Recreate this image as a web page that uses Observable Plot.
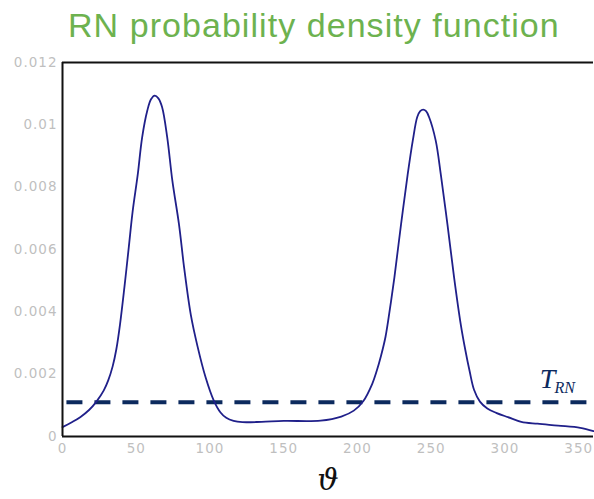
<!DOCTYPE html>
<html>
<head>
<meta charset="utf-8">
<script src="https://cdn.jsdelivr.net/npm/d3@7"></script>
<script src="https://cdn.jsdelivr.net/npm/@observablehq/plot@0.6"></script>
<style>
  html, body { margin: 0; padding: 0; background: #fff; }
  #title { height: 50px; line-height: 50px; font-family: "Liberation Sans", Arial, sans-serif; font-size: 34px; letter-spacing: 1.05px; color: #6db24f; padding-left: 68px; white-space: nowrap; }
  #chart svg { display: block; overflow: visible; }
  #chart svg g[aria-label="x-axis tick label"] text,
  #chart svg g[aria-label="y-axis tick label"] text { letter-spacing: 1px; }
</style>
</head>
<body>
<div id="title">RN probability density function</div>
<div id="chart"></div>
<script>
// angle (deg) and density values
const theta = [0, 6, 12, 18, 23, 28, 31, 34, 36.5, 39, 42, 45, 47.5, 51, 54, 57.5, 60, 62.5, 65, 67.5, 71, 74.5, 79, 82.5, 87, 91.5, 97, 102.5, 107, 111, 116, 122, 135, 150, 175, 189, 197.5, 204, 210, 213, 216, 219, 222, 225, 229.5, 234, 237.5, 240.5, 242.5, 244.5, 246.5, 248.5, 253, 256.5, 261, 265.5, 270, 273, 276, 279, 283, 288, 294, 302, 311, 322, 336, 351, 360];
const density = [0.00030, 0.00045, 0.00062, 0.00085, 0.00112, 0.00148, 0.00180, 0.00225, 0.0028, 0.0036, 0.0048, 0.0061, 0.0072, 0.0084, 0.0096, 0.01046, 0.01082, 0.01094, 0.01085, 0.01057, 0.0096, 0.0082, 0.0068, 0.0054, 0.0039, 0.0029, 0.0019, 0.00116, 0.00078, 0.00060, 0.00050, 0.00046, 0.00047, 0.00050, 0.00051, 0.00064, 0.00083, 0.00114, 0.00169, 0.0021, 0.0026, 0.0032, 0.0041, 0.0051, 0.0068, 0.0084, 0.0095, 0.01025, 0.01044, 0.01049, 0.01044, 0.01025, 0.0095, 0.0084, 0.0068, 0.0051, 0.0036, 0.0028, 0.0021, 0.00150, 0.00112, 0.00090, 0.00076, 0.00062, 0.00047, 0.00041, 0.00035, 0.00028, 0.00017];
const threshold = 0.0011;
const thresholdLabel = "T";
const thresholdSub = "RN";
const xLabel = "ϑ";
const xTicks = [0, 50, 100, 150, 200, 250, 300, 350];
const yTicks = [0, 0.002, 0.004, 0.006, 0.008, 0.01, 0.012];

const pdf = theta.map((t, i) => ({theta: t, density: density[i]}));

const tickStyle = {fill: "#bfbfbf", fontSize: 13.5, fontFamily: "DejaVu Sans, sans-serif"};

const chart = Plot.plot({
  width: 594,
  height: 449,
  marginLeft: 62,
  marginRight: 1,
  marginTop: 12,
  marginBottom: 63,
  x: {domain: [0, 360]},
  y: {domain: [0, 0.012]},
  marks: [
    Plot.axisX({ticks: xTicks, tickFormat: d => String(d), tickSize: 0, tickPadding: 7, label: null, ...tickStyle}),
    Plot.axisY({ticks: yTicks, tickFormat: d => String(d), tickSize: 0, tickPadding: 5, label: null, ...tickStyle}),
    Plot.ruleY([threshold], {x1: 3, x2: 360, stroke: "#0c2a5e", strokeWidth: 4, strokeDasharray: "16,12"}),
    Plot.line(pdf, {x: "theta", y: "density", stroke: "#20208a", strokeWidth: 1.8, curve: "catmull-rom"}),
    Plot.ruleX([0], {stroke: "#111", strokeWidth: 2}),
    Plot.ruleY([0, 0.012], {stroke: "#111", strokeWidth: 2}),
    Plot.text([thresholdLabel], {x: 323.5, y: 0.00155, text: d => d, textAnchor: "start", lineAnchor: "bottom", fontSize: 28, fontStyle: "italic", fontFamily: "Liberation Serif, serif", fill: "#0c2a5e"}),
    Plot.text([thresholdSub], {x: 333.5, y: 0.00141, text: d => d, textAnchor: "start", lineAnchor: "bottom", fontSize: 16, fontStyle: "italic", fontFamily: "Liberation Serif, serif", fill: "#0c2a5e"}),
    Plot.text([xLabel], {x: 180, frameAnchor: "bottom", dy: 44, text: d => d, lineAnchor: "middle", fontSize: 30, fontStyle: "italic", fontFamily: "DejaVu Serif, serif", fill: "#111"})
  ]
});
document.getElementById("chart").appendChild(chart);
</script>
</body>
</html>
